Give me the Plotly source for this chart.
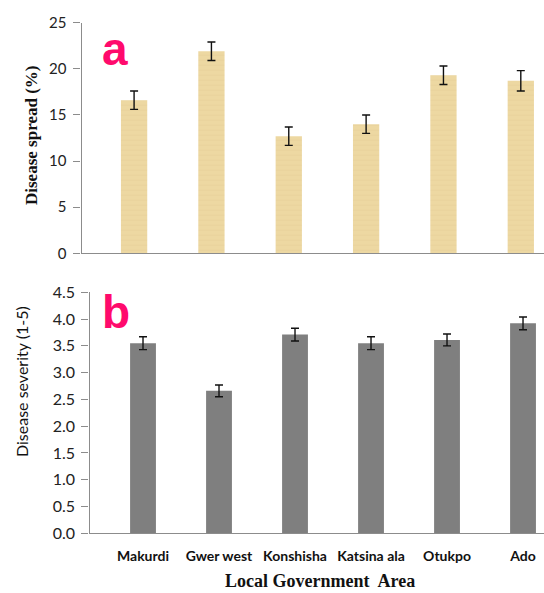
import plotly.graph_objects as go

categories = ["Makurdi", "Gwer west", "Konshisha", "Katsina ala", "Otukpo", "Ado"]
spread = [16.6, 21.9, 12.7, 14.0, 19.3, 18.7]
spread_err = [1.0, 1.0, 1.0, 1.0, 1.0, 1.1]
severity = [3.55, 2.66, 3.71, 3.55, 3.61, 3.92]
severity_err = [0.12, 0.11, 0.12, 0.12, 0.11, 0.12]

W, H = 544, 593
AX = "#8c8c8c"
SANS = "Lato, Open Sans, sans-serif"
SERIF = "Liberation Serif, Times New Roman, serif"

fig = go.Figure()
fig.add_trace(go.Bar(
    x=categories, y=spread, xaxis="x", yaxis="y", width=0.34,
    marker=dict(color="#EDD8A2", line=dict(width=0),
                pattern=dict(shape="-", fgcolor="#D8C08A", size=5, solidity=0.1)),
    error_y=dict(type="data", array=spread_err, color="#111", thickness=1.4, width=4),
    showlegend=False))
fig.add_trace(go.Bar(
    x=categories, y=severity, xaxis="x2", yaxis="y2", width=0.34,
    marker=dict(color="#7f7f7f", line=dict(width=0)),
    error_y=dict(type="data", array=severity_err, color="#111", thickness=1.4, width=4),
    showlegend=False))

def px_y(p):
    return 1 - p / H

def ann(text, x, y, font, angle=0):
    return dict(text=text, x=x / W, y=px_y(y), xref="paper", yref="paper",
                xanchor="center", yanchor="middle", textangle=angle,
                showarrow=False, font=font)

fig.update_layout(
    width=W, height=H, margin=dict(l=0, r=0, t=0, b=0, pad=0, autoexpand=False),
    paper_bgcolor="white", plot_bgcolor="white",
    xaxis=dict(domain=[81.5 / W, 1], anchor="y", range=[-0.68, 5.30], automargin=False,
               showticklabels=False, showline=True, linecolor=AX, linewidth=1.3,
               showgrid=False, zeroline=False, ticks=""),
    yaxis=dict(domain=[px_y(253.3), px_y(22.7)], anchor="x", range=[0, 25], dtick=5,
               automargin=False,
               showline=True, linecolor=AX, linewidth=1.3, ticks="outside", ticklen=7,
               tickcolor=AX, showgrid=False, zeroline=False, ticklabelstandoff=4,
               tickfont=dict(family=SANS, size=15, color="#222")),
    xaxis2=dict(domain=[89.5 / W, 1], anchor="y2", range=[-0.704, 5.276], automargin=False,
                showline=True, linecolor=AX, linewidth=1.3, showgrid=False,
                zeroline=False, ticks="", ticklabelstandoff=10,
                tickfont=dict(family=SANS, size=14, color="#111", weight="bold")),
    yaxis2=dict(domain=[px_y(533.3), px_y(292.3)], anchor="x2", range=[0, 4.5], dtick=0.5,
                automargin=False,
                tickformat=".1f", showline=True, linecolor=AX, linewidth=1.3,
                ticks="outside", ticklen=7, tickcolor=AX, showgrid=False, zeroline=False,
                ticklabelstandoff=3,
                tickfont=dict(family=SANS, size=16, color="#222")),
    annotations=[
        ann("a", 115, 49, dict(family="Liberation Sans, Arial", size=46,
                               color="#FF0A6C", weight="bold")),
        ann("b", 116, 312, dict(family="Liberation Sans, Arial", size=46,
                                color="#FF0A6C", weight="bold")),
        ann("Disease spread (%)", 32, 136,
            dict(family=SERIF, size=17, color="#111", weight="bold"), -90),
        ann("Disease severity (1-5)", 21, 382,
            dict(family=SANS, size=16, color="#111"), -90),
        ann("Local Government  Area", 320, 581,
            dict(family=SERIF, size=18, color="#111", weight="bold")),
    ],
)

fig.write_html("out.html", config={"displayModeBar": False},
               post_script="document.body.style.margin='0px';")
